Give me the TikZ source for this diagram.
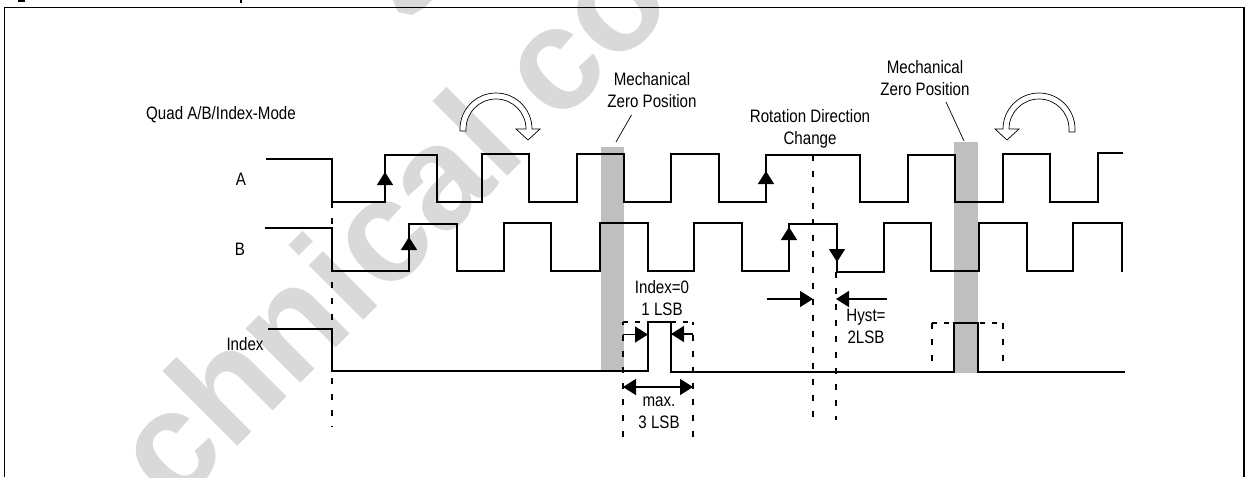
\documentclass[tikz,border=0pt]{standalone}
\usepackage{fontspec}
\setmainfont[FakeStretch=0.84]{Liberation Sans}
\newfontfamily\wmfont{Liberation Sans}
\usetikzlibrary{arrows.meta}
\definecolor{wmgray}{HTML}{D9D9D9}
\definecolor{bargray}{HTML}{BFBFBF}
\tikzset{
  signal/.style={line width=1.5pt,line join=miter},
  frameline/.style={line width=1.6pt},
  guide/.style={line width=1.5pt,dash pattern=on 6pt off 10pt},
  boxtop/.style={line width=1.3pt,dash pattern=on 5pt off 7pt},
  leader/.style={line width=.7pt},
  tri/.style={line width=1.5pt,-{Triangle[length=13pt,width=16pt]}},
  tribar/.style={line width=1.5pt,{Triangle[length=13pt,width=16pt]}-{Triangle[length=13pt,width=16pt]}},
  hollow/.style={draw=black,fill=white,line width=.7pt,line join=miter},
  lbl/.style={font=\fontsize{18}{22}\selectfont,align=center,inner sep=0pt,text=black},
  bar/.style={fill=bargray,draw=none},
  watermark/.style={font=\fontsize{146}{146}\selectfont\wmfont\bfseries,text=wmgray,inner sep=0pt}
}
\begin{document}
\begin{tikzpicture}[x=1pt,y=-1pt]
\useasboundingbox (0,0) rectangle (1245,477);
% watermark
\begin{scope}
\clip (0,0) rectangle (1245,477);
\node[watermark,rotate=45,anchor=base west] (wm) at (173,511) {chnical co};
\fill[wmgray] (393,0) -- (398,12) -- (412,15) -- (424,8) -- (432,0) -- cycle;
\end{scope}
% cut-off caption fragments
\fill (18,0) rectangle (25,1.5);
\fill (240,0) rectangle (242,2.5);
% frame
\draw[frameline] (4.5,477) -- (4.5,7.5) -- (1244,7.5) -- (1244,477);
% mechanical zero bars
\fill[bar] (601,147) rectangle (624,371);
\fill[bar] (954,142) rectangle (978,373);
% dashed guides
\coordinate (g1a) at (332,202); \coordinate (g1b) at (332,427);
\draw[guide] (g1a) -- (g1b);
\coordinate (g2a) at (813,155); \coordinate (g2b) at (813,420);
\draw[guide] (g2a) -- (g2b);
\coordinate (g3a) at (836,272); \coordinate (g3b) at (836,420);
\draw[guide] (g3a) -- (g3b);
% dashed boxes
\coordinate (b1a) at (623,437); \coordinate (b1b) at (623,322);
\coordinate (b1c) at (693,322); \coordinate (b1d) at (693,437);
\draw[guide] (b1a) -- (b1b);
\draw[guide] (b1d) -- (b1c);
\draw[boxtop] (b1b) -- (b1c);
\coordinate (b2a) at (932,372); \coordinate (b2b) at (932,323);
\coordinate (b2c) at (1003,323); \coordinate (b2d) at (1003,372);
\draw[guide] (b2b) -- (b2a);
\draw[guide] (b2c) -- (b2d);
\draw[boxtop] (b2b) -- (b2c);
% signal A
\draw[signal] (266,159) -| (332,202) -| (385,155) -| (437,202) -| (482,154) -| (529,202) -| (577,154) -| (624,202) -| (671,154) -| (719,202) -| (766,155) -| (860,202) -| (908,155) -| (955,202) -| (1003,154) -| (1050,202) -| (1098,153) -- (1123,153);
% signal B
\draw[signal] (265,228) -| (332,271) -| (409,224) -| (457,271) -| (504,223) -| (551,271) -| (600,223) -| (648,271) -| (694,223) -| (742,271) -| (789,224) -| (837,272) -| (884,223) -| (931,271) -| (979,223) -| (1027,271) -| (1073,223) -| (1122,272);
% signal Index
\draw[signal] (268,329) -| (332,371) -| (648,322) -| (671,372) -| (954,323) -| (978,372) -- (1125,372);
% edge arrows
\coordinate (e1a) at (385,200); \coordinate (e1b) at (385,172);
\coordinate (e2a) at (766,200); \coordinate (e2b) at (766,171);
\coordinate (e3a) at (409,268); \coordinate (e3b) at (409,237);
\coordinate (e4a) at (789,268); \coordinate (e4b) at (789,227);
\coordinate (e5a) at (837,226); \coordinate (e5b) at (837,262);
\draw[tri] (e1a) -- (e1b);
\draw[tri] (e2a) -- (e2b);
\draw[tri] (e3a) -- (e3b);
\draw[tri] (e4a) -- (e4b);
\draw[tri] (e5a) -- (e5b);
% hysteresis arrows
\coordinate (h1a) at (767,299); \coordinate (h1b) at (813,299);
\coordinate (h2a) at (887,299); \coordinate (h2b) at (836,299);
\draw[tri] (h1a) -- (h1b);
\draw[tri] (h2a) -- (h2b);
% index width arrows
\coordinate (i1a) at (623,334.5); \coordinate (i1b) at (648,334.5);
\coordinate (i2a) at (693,334); \coordinate (i2b) at (671,334);
\draw[tri] (i1a) -- (i1b);
\draw[tri] (i2a) -- (i2b);
\coordinate (m1) at (623,387); \coordinate (m2) at (693,387);
\draw[tribar] (m1) -- (m2);
% hollow rotation arrows
\draw[hollow] (460,131) -- (460,129) arc[start angle=180,end angle=360,radius=36] -- (540,129) -- (528,140) -- (516,129) -- (526,129) arc[start angle=360,end angle=180,radius=30] -- (466,131) -- cycle;
\draw[hollow] (1075,132) -- (1075,129) arc[start angle=360,end angle=180,radius=36] -- (995,129) -- (1007,140) -- (1019,129) -- (1009,129) arc[start angle=180,end angle=360,radius=30] -- (1069,132) -- cycle;
% labels
\node[lbl] (quad) at (221,115) {Quad A/B/Index-Mode};
\node[lbl] (la) at (241,179) {A};
\node[lbl] (lb) at (240,249) {B};
\node[lbl] (lidx) at (245,344) {Index};
\node[lbl] (mz1) at (652,90) {Mechanical\\Zero Position};
\node[lbl] (mz2) at (925,78) {Mechanical\\Zero Position};
\node[lbl] (rot) at (810,129) {Rotation Direction\\Change};
\node[lbl] (i0) at (662,298) {Index=0\\1 LSB};
\node[lbl] (mx) at (659,413) {max.\\3 LSB};
\node[lbl] (hy) at (866,326.5) {Hyst=\\2LSB};
% leaders
\coordinate (l1a) at (631.5,115); \coordinate (l1b) at (616,142);
\coordinate (l2a) at (946,102); \coordinate (l2b) at (964,141);
\draw[leader] (l1a) -- (l1b);
\draw[leader] (l2a) -- (l2b);
\end{tikzpicture}
\end{document}
